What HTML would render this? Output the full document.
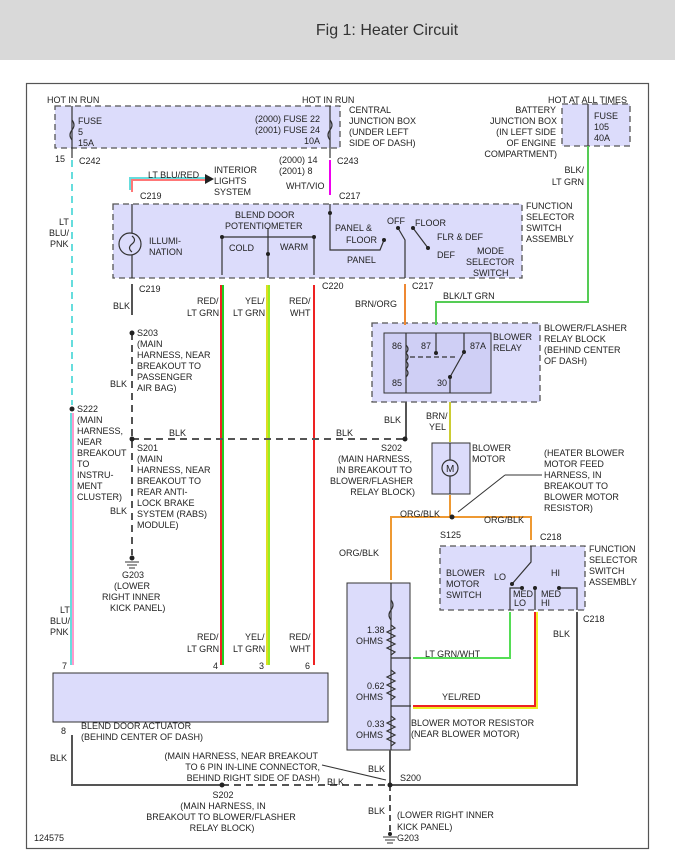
<!DOCTYPE html>
<html><head><meta charset="utf-8"><style>
html,body{margin:0;padding:0;background:#fff;}
svg{display:block;}
text{font-family:"Liberation Sans",sans-serif;font-size:9px;fill:#222;}
</style></head><body>
<svg width="675" height="861" viewBox="0 0 675 861" xmlns="http://www.w3.org/2000/svg">
<rect x="0" y="0" width="675" height="60" fill="#d9d9d9"/>
<text x="387" y="35" text-anchor="middle" style="font-size:16px;fill:#333">Fig 1: Heater Circuit</text>
<rect x="26.5" y="83.5" width="622" height="765" fill="#fff" stroke="#555" stroke-width="1.2"/>

<g fill="#dcdcfb" stroke="#555" stroke-width="1.3" stroke-dasharray="6,4">
<rect x="55" y="106" width="285" height="42"/>
<rect x="562" y="104" width="68" height="42"/>
<rect x="113" y="204" width="409" height="74"/>
<rect x="372" y="323" width="168" height="79"/>
<rect x="440" y="546" width="145" height="64"/>
</g>
<rect x="384" y="333" width="107" height="60" fill="#cfcff5" stroke="#333"/>
<rect x="432" y="443" width="38" height="51" fill="#dcdcfb" stroke="#333"/>
<rect x="347" y="583" width="63" height="167" fill="#dcdcfb" stroke="#333"/>
<rect x="53" y="673" width="275" height="49" fill="#dcdcfb" stroke="#333"/>

<g fill="none" stroke-width="2">
<line x1="72" y1="160" x2="72" y2="405" stroke="#6dd" stroke-dasharray="7,5"/>
<line x1="71" y1="413" x2="71" y2="665" stroke="#6dd"/>
<line x1="73" y1="413" x2="73" y2="665" stroke="#f9c"/>
<line x1="330" y1="160" x2="330" y2="195" stroke="#e0e"/>
<polyline points="130,190 130,178 205,178" stroke="#6dd"/>
<polyline points="132,192 132,180 205,180" stroke="#f77"/>
<line x1="221" y1="285" x2="221" y2="665" stroke="#e22"/>
<line x1="223" y1="285" x2="223" y2="665" stroke="#2c2"/>
<line x1="267" y1="285" x2="267" y2="665" stroke="#dd2"/>
<line x1="269" y1="285" x2="269" y2="665" stroke="#9e2"/>
<line x1="314" y1="285" x2="314" y2="665" stroke="#e22"/>
<line x1="405" y1="284" x2="405" y2="325" stroke="#e83"/>
<polyline points="588,146 588,302 436,302 436,325" stroke="#5c5"/>
<line x1="450" y1="402" x2="450" y2="442" stroke="#cc3"/>
<polyline points="450,495 450,517" stroke="#e93"/>
<polyline points="391,580 391,517 531,517 531,540" stroke="#e93"/>
<polyline points="413,658 510,658 510,612" stroke="#5d5"/>
<polyline points="413,706 535,706 535,612" stroke="#e22"/>
<polyline points="413,708 537,708 537,612" stroke="#ee2"/>
</g>
<g fill="none" stroke="#555" stroke-width="2">
<line x1="132" y1="284" x2="132" y2="315"/>
<line x1="132" y1="333" x2="132" y2="555" stroke-dasharray="7,5"/>
<line x1="132" y1="439" x2="405" y2="439" stroke-dasharray="7,5"/>
<line x1="406" y1="402" x2="406" y2="439"/>
<polyline points="72,735 72,785 222,785"/>
<line x1="222" y1="785" x2="390" y2="785" stroke-dasharray="7,5"/>
<polyline points="390,750 390,785 577,785 577,612"/>
<line x1="390" y1="785" x2="390" y2="832" stroke-dasharray="6,4"/>
</g>
<g fill="#222">
<circle cx="132" cy="333" r="2.5"/><circle cx="72" cy="409" r="2.5"/><circle cx="132" cy="439" r="2.5"/>
<circle cx="405" cy="439" r="2.5"/><circle cx="452" cy="517" r="2.5"/><circle cx="222" cy="785" r="2.5"/><circle cx="390" cy="785" r="2.5"/>
<circle cx="132" cy="558" r="2.5"/><circle cx="390" cy="834" r="2"/>
<polygon points="205,174 214,179 205,184"/>
</g>
<g stroke="#333"><line x1="125" y1="562" x2="139" y2="562"/><line x1="127" y1="565" x2="137" y2="565"/><line x1="129" y1="568" x2="135" y2="568"/>
<line x1="383" y1="837" x2="397" y2="837"/><line x1="385" y1="840" x2="395" y2="840"/><line x1="387" y1="843" x2="393" y2="843"/></g>

<g fill="none" stroke="#333" stroke-width="1.2">
<line x1="72" y1="106" x2="72" y2="158"/><path d="M72,120 q4,5 0,10 q-4,5 0,10"/>
<line x1="330" y1="106" x2="330" y2="158"/><path d="M330,120 q4,5 0,10 q-4,5 0,10"/>
<line x1="588" y1="104" x2="588" y2="146"/>
<line x1="132" y1="204" x2="132" y2="233"/><line x1="132" y1="255" x2="132" y2="278"/><circle cx="130" cy="244" r="11"/><path d="M132,236 q5,4 0,8 q-5,4 0,8"/>
<polyline points="222,275 222,237 314,237 314,275"/><line x1="268" y1="228" x2="268" y2="278"/>
<polyline points="330,204 330,250 380,250 384,240"/>
<polyline points="405,278 405,240 398,228"/><line x1="413" y1="228" x2="428" y2="248"/>
<polyline points="406,333 406,393"/><path d="M406,345 q4,4 0,8 q4,4 0,8 q4,4 0,8 q4,4 0,8"/>
<line x1="410" y1="357" x2="455" y2="357" stroke-dasharray="5,3"/>
<polyline points="436,333 436,353"/><polyline points="464,333 464,352 450,377 450,393"/>
<line x1="450" y1="443" x2="450" y2="494"/><circle cx="450" cy="468" r="8" fill="#dcdcfb"/>
<polyline points="531,546 531,562 512,584"/>
<polyline points="510,610 510,588 522,588"/><polyline points="535,610 535,588"/><polyline points="559,588 577,588 577,610"/>
<line x1="391" y1="583" x2="391" y2="750"/>
<path d="M391,600 q4,5 0,10 q-4,5 0,10 M391,625 l4,3 -8,4 8,4 -8,4 8,4 -8,4 8,4 -4,3 M391,670 l4,3 -8,4 8,4 -8,4 8,4 -8,4 8,4 -4,3 M391,716 l4,3 -8,4 8,4 -8,4 8,4 -8,4 8,4 -4,3"/>
<line x1="391" y1="658" x2="411" y2="658"/><line x1="391" y1="706" x2="411" y2="706"/>
</g>
<g fill="#222"><circle cx="268" cy="254" r="2"/><circle cx="222" cy="237" r="2"/><circle cx="314" cy="237" r="2"/><circle cx="330" cy="213" r="2"/><circle cx="384" cy="240" r="2"/><circle cx="398" cy="228" r="2"/><circle cx="413" cy="228" r="2"/><circle cx="428" cy="248" r="2"/><circle cx="436" cy="353" r="2"/><circle cx="464" cy="352" r="2"/><circle cx="450" cy="377" r="2"/><circle cx="512" cy="584" r="2"/><circle cx="522" cy="588" r="2"/><circle cx="535" cy="588" r="2"/><circle cx="559" cy="588" r="2"/></g>
<text x="446" y="472" style="font-size:10px">M</text>

<text x="47" y="103">HOT IN RUN</text><text x="302" y="103">HOT IN RUN</text>
<text x="78" y="124">FUSE</text><text x="78" y="135">5</text><text x="78" y="146">15A</text>
<text x="320" y="122" text-anchor="end">(2000) FUSE 22</text><text x="320" y="133" text-anchor="end">(2001) FUSE 24</text><text x="320" y="144" text-anchor="end">10A</text>
<text x="349" y="113">CENTRAL</text><text x="349" y="124">JUNCTION BOX</text><text x="349" y="135">(UNDER LEFT</text><text x="349" y="146">SIDE OF DASH)</text>
<text x="548" y="103">HOT AT ALL TIMES</text>
<text x="556" y="113" text-anchor="end">BATTERY</text><text x="557" y="124" text-anchor="end">JUNCTION BOX</text><text x="556" y="135" text-anchor="end">(IN LEFT SIDE</text><text x="556" y="146" text-anchor="end">OF ENGINE</text><text x="557" y="157" text-anchor="end">COMPARTMENT)</text>
<text x="594" y="119">FUSE</text><text x="594" y="130">105</text><text x="594" y="141">40A</text>
<text x="584" y="173" text-anchor="end">BLK/</text><text x="584" y="185" text-anchor="end">LT GRN</text>
<text x="55" y="162">15</text><text x="79" y="164">C242</text><text x="337" y="164">C243</text>
<text x="279" y="163">(2000)   14</text><text x="279" y="174">(2001)     8</text><text x="286" y="189">WHT/VIO</text>
<text x="148" y="178">LT BLU/RED</text><text x="214" y="173">INTERIOR</text><text x="214" y="184">LIGHTS</text><text x="214" y="195">SYSTEM</text>
<text x="140" y="199">C219</text><text x="339" y="199">C217</text>
<text x="59" y="225">LT</text><text x="49" y="236">BLU/</text><text x="50" y="247">PNK</text>
<text x="149" y="244">ILLUMI-</text><text x="149" y="255">NATION</text>
<text x="235" y="218">BLEND DOOR</text><text x="225" y="229">POTENTIOMETER</text>
<text x="229" y="251">COLD</text><text x="280" y="250">WARM</text>
<text x="335" y="231">PANEL &amp;</text><text x="346" y="243">FLOOR</text><text x="347" y="263">PANEL</text>
<text x="387" y="224">OFF</text><text x="415" y="226">FLOOR</text><text x="437" y="240">FLR &amp; DEF</text><text x="437" y="258">DEF</text>
<text x="477" y="254">MODE</text><text x="466" y="265">SELECTOR</text><text x="473" y="276">SWITCH</text>
<text x="526" y="209">FUNCTION</text><text x="526" y="220">SELECTOR</text><text x="526" y="231">SWITCH</text><text x="526" y="242">ASSEMBLY</text>
<text x="139" y="292">C219</text><text x="322" y="289">C220</text><text x="412" y="289">C217</text>
<text x="197" y="304">RED/</text><text x="187" y="316">LT GRN</text><text x="245" y="304">YEL/</text><text x="233" y="316">LT GRN</text><text x="289" y="304">RED/</text><text x="290" y="316">WHT</text>
<text x="355" y="307">BRN/ORG</text><text x="443" y="299">BLK/LT GRN</text>
<text x="113" y="309">BLK</text>
<text x="137" y="336">S203</text><text x="137" y="347">(MAIN</text><text x="137" y="358">HARNESS, NEAR</text><text x="137" y="369">BREAKOUT TO</text><text x="137" y="380">PASSENGER</text><text x="137" y="391">AIR BAG)</text>
<text x="110" y="387">BLK</text>
<text x="77" y="412">S222</text><text x="77" y="423">(MAIN</text><text x="77" y="434">HARNESS,</text><text x="77" y="445">NEAR</text><text x="77" y="456">BREAKOUT</text><text x="77" y="467">TO</text><text x="77" y="478">INSTRU-</text><text x="77" y="489">MENT</text><text x="77" y="500">CLUSTER)</text>
<text x="169" y="436">BLK</text><text x="336" y="436">BLK</text>
<text x="137" y="451">S201</text><text x="137" y="462">(MAIN</text><text x="137" y="473">HARNESS, NEAR</text><text x="137" y="484">BREAKOUT TO</text><text x="137" y="495">REAR ANTI-</text><text x="137" y="506">LOCK BRAKE</text><text x="137" y="517">SYSTEM (RABS)</text><text x="137" y="528">MODULE)</text>
<text x="110" y="514">BLK</text>
<text x="122" y="578">G203</text><text x="114" y="589">(LOWER</text><text x="102" y="600">RIGHT INNER</text><text x="110" y="611">KICK PANEL)</text>
<text x="392" y="349">86</text><text x="421" y="349">87</text><text x="470" y="349">87A</text><text x="392" y="386">85</text><text x="437" y="386">30</text>
<text x="493" y="340">BLOWER</text><text x="493" y="351">RELAY</text>
<text x="544" y="331">BLOWER/FLASHER</text><text x="544" y="342">RELAY BLOCK</text><text x="544" y="353">(BEHIND CENTER</text><text x="544" y="364">OF DASH)</text>
<text x="384" y="423">BLK</text><text x="426" y="419">BRN/</text><text x="429" y="430">YEL</text>
<text x="402" y="451" text-anchor="end">S202</text><text x="412" y="462" text-anchor="end">(MAIN HARNESS,</text><text x="412" y="473" text-anchor="end">IN BREAKOUT TO</text><text x="413" y="484" text-anchor="end">BLOWER/FLASHER</text><text x="415" y="495" text-anchor="end">RELAY BLOCK)</text>
<text x="472" y="451">BLOWER</text><text x="472" y="462">MOTOR</text>
<text x="544" y="456">(HEATER BLOWER</text><text x="544" y="467">MOTOR FEED</text><text x="544" y="478">HARNESS, IN</text><text x="544" y="489">BREAKOUT TO</text><text x="544" y="500">BLOWER MOTOR</text><text x="544" y="511">RESISTOR)</text>
<line x1="542" y1="475" x2="505" y2="475" stroke="#333"/><line x1="505" y1="475" x2="458" y2="512" stroke="#333"/>
<text x="400" y="517">ORG/BLK</text><text x="484" y="523">ORG/BLK</text><text x="440" y="538">S125</text><text x="540" y="540">C218</text>
<text x="339" y="556">ORG/BLK</text>
<text x="446" y="576">BLOWER</text><text x="446" y="587">MOTOR</text><text x="446" y="598">SWITCH</text>
<text x="494" y="580">LO</text><text x="551" y="576">HI</text><text x="513" y="597">MED</text><text x="514" y="606">LO</text><text x="541" y="597">MED</text><text x="541" y="606">HI</text>
<text x="589" y="552">FUNCTION</text><text x="589" y="563">SELECTOR</text><text x="589" y="574">SWITCH</text><text x="589" y="585">ASSEMBLY</text>
<text x="583" y="622">C218</text><text x="553" y="637">BLK</text>
<text x="60" y="613">LT</text><text x="50" y="624">BLU/</text><text x="50" y="635">PNK</text>
<text x="197" y="640">RED/</text><text x="187" y="652">LT GRN</text><text x="245" y="640">YEL/</text><text x="233" y="652">LT GRN</text><text x="289" y="640">RED/</text><text x="290" y="652">WHT</text>
<text x="62" y="669">7</text><text x="213" y="669">4</text><text x="259" y="669">3</text><text x="305" y="669">6</text>
<text x="367" y="633">1.38</text><text x="356" y="644">OHMS</text><text x="367" y="689">0.62</text><text x="356" y="700">OHMS</text><text x="367" y="727">0.33</text><text x="356" y="738">OHMS</text>
<text x="425" y="657">LT GRN/WHT</text><text x="442" y="700">YEL/RED</text>
<text x="411" y="726">BLOWER MOTOR RESISTOR</text><text x="411" y="737">(NEAR BLOWER MOTOR)</text>
<text x="61" y="734">8</text><text x="81" y="729">BLEND DOOR ACTUATOR</text><text x="81" y="740">(BEHIND CENTER OF DASH)</text>
<text x="50" y="761">BLK</text>
<text x="318" y="759" text-anchor="end">(MAIN HARNESS, NEAR BREAKOUT</text><text x="320" y="770" text-anchor="end">TO 6 PIN IN-LINE CONNECTOR,</text><text x="320" y="781" text-anchor="end">BEHIND RIGHT SIDE OF DASH)</text>
<line x1="322" y1="765" x2="386" y2="780" stroke="#333"/>
<text x="327" y="785">BLK</text><text x="368" y="772">BLK</text><text x="400" y="781">S200</text>
<text x="223" y="798" text-anchor="middle">S202</text><text x="223" y="809" text-anchor="middle">(MAIN HARNESS, IN</text><text x="221" y="820" text-anchor="middle">BREAKOUT TO BLOWER/FLASHER</text><text x="222" y="831" text-anchor="middle">RELAY BLOCK)</text>
<text x="368" y="814">BLK</text><text x="397" y="818">(LOWER RIGHT INNER</text><text x="397" y="830">KICK PANEL)</text><text x="397" y="841">G203</text>
<text x="34" y="841">124575</text>
</svg>
</body></html>
